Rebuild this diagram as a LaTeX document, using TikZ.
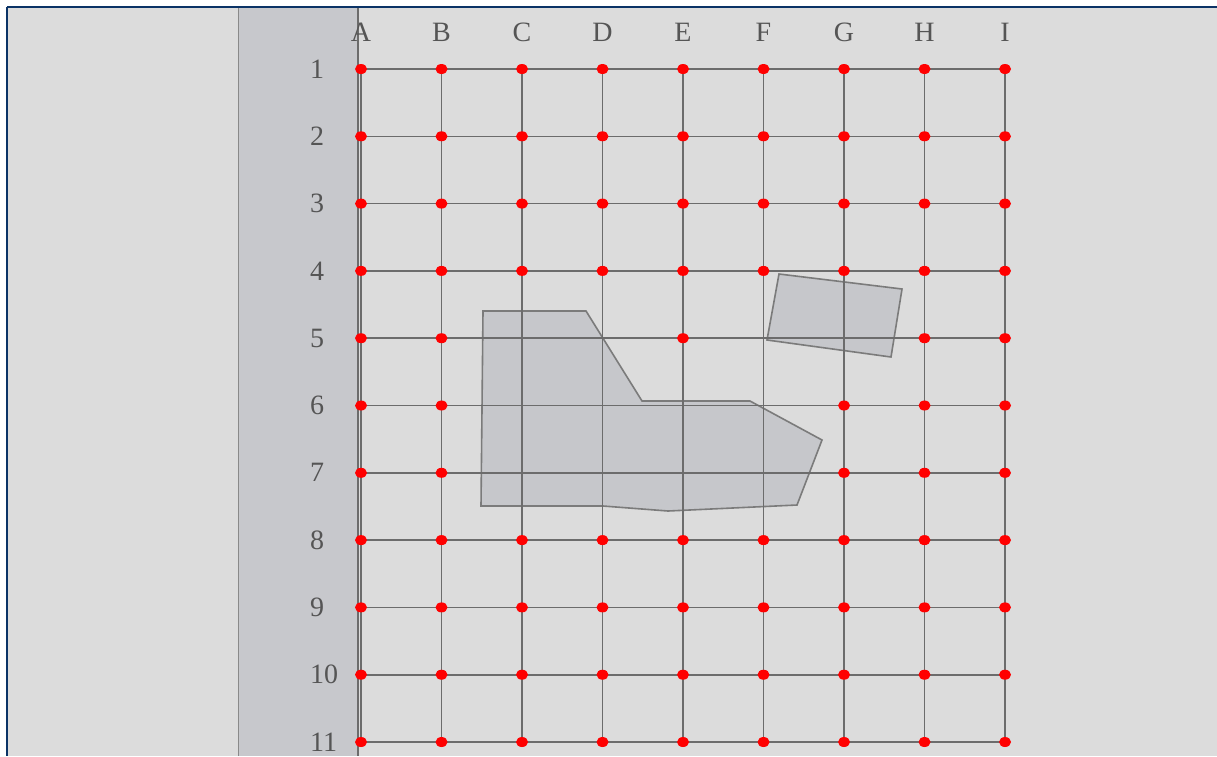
\documentclass[tikz,border=0pt]{standalone}
\usepackage{fontspec}
\setmainfont{Liberation Serif}
\usetikzlibrary{positioning,calc,shapes.geometric}
\definecolor{gdfond}{HTML}{DCDCDC}
\definecolor{gdbande}{HTML}{C7C8CC}
\definecolor{gdzone}{HTML}{C6C7CB}
\definecolor{gdtrait}{HTML}{6C6C6C}
\definecolor{gdtexte}{HTML}{555555}
\definecolor{gdcadre}{HTML}{0B3366}
\tikzset{
  gridline/.style={draw=gdtrait, line width=1.6pt},
  gridpt/.style={
    ellipse, fill=red, draw=none, inner sep=0pt,
    minimum width=12pt, minimum height=10pt
  },
  zonebox/.style={fill=gdzone, draw=gdtrait!90, line width=1.6pt, line join=miter},
  colhead/.style={text=gdtexte, inner sep=0pt, font=\fontsize{28}{28}\selectfont},
  rowhead/.style={text=gdtexte, inner sep=0pt, anchor=west, font=\fontsize{28}{28}\selectfont}
}

\begin{document}
\begin{tikzpicture}[x=1pt, y=-1pt]
  % Frame and background
  \useasboundingbox (0,0) rectangle (1217,756);
  \fill[white] (0,0) rectangle (1217,756);
  \fill[gdfond] (7,7) rectangle (1217,756);
  \fill[gdbande] (238,8) rectangle (358,756);
  \draw[gdtrait!80, line width=1pt] (238,8) -- (238,756);
  \draw[gdtrait, line width=1.2pt] (358,8) -- (358,756);
  \draw[gdcadre, line width=2.5pt] (7,7) -- (1217,7);
  \draw[gdcadre, line width=2.5pt] (7,7) -- (7,756);

  % Grid points
  \foreach \c [count=\i] in {A,B,C,D,E,F,G,H,I}
    \foreach \r in {1,...,11}
      \coordinate (\c\r) at ({361+80.5*(\i-1)},{69+67.3*(\r-1)});

  % Zones
  \draw[zonebox] (483,311) -- (586,311) -- (642,401) -- (750,401) -- (822,440)
    -- (797,505) -- (668,511) -- (603,506) -- (481,506) -- cycle;
  \draw[zonebox] (779,274) -- (902,289) -- (891,357) -- (767,340) -- cycle;

  % Grid lines
  \foreach \c in {A,B,C,D,E,F,G,H,I}
    \draw[gridline] (\c1) -- (\c11);
  \foreach \r in {1,...,11}
    \draw[gridline] (A\r) -- (I\r);

  % Headings
  \foreach \c in {A,B,C,D,E,F,G,H,I}
    \node[colhead] (h\c) at ($(\c1)+(0,-37)$) {\c};
  \foreach \r in {1,...,11}
    \node[rowhead] (n\r) at ($(A\r)+(-51,0)$) {\r};

  % Points
  \foreach \r in {1,2,3,4,8,9,10,11}
    \foreach \c in {A,B,C,D,E,F,G,H,I}
      \node[gridpt] (p\c\r) at (\c\r) {};
  \foreach \c in {A,B,E,H,I}
    \node[gridpt] (p\c5) at (\c5) {};
  \foreach \r in {6,7}
    \foreach \c in {A,B,G,H,I}
      \node[gridpt] (p\c\r) at (\c\r) {};
\end{tikzpicture}
\end{document}
